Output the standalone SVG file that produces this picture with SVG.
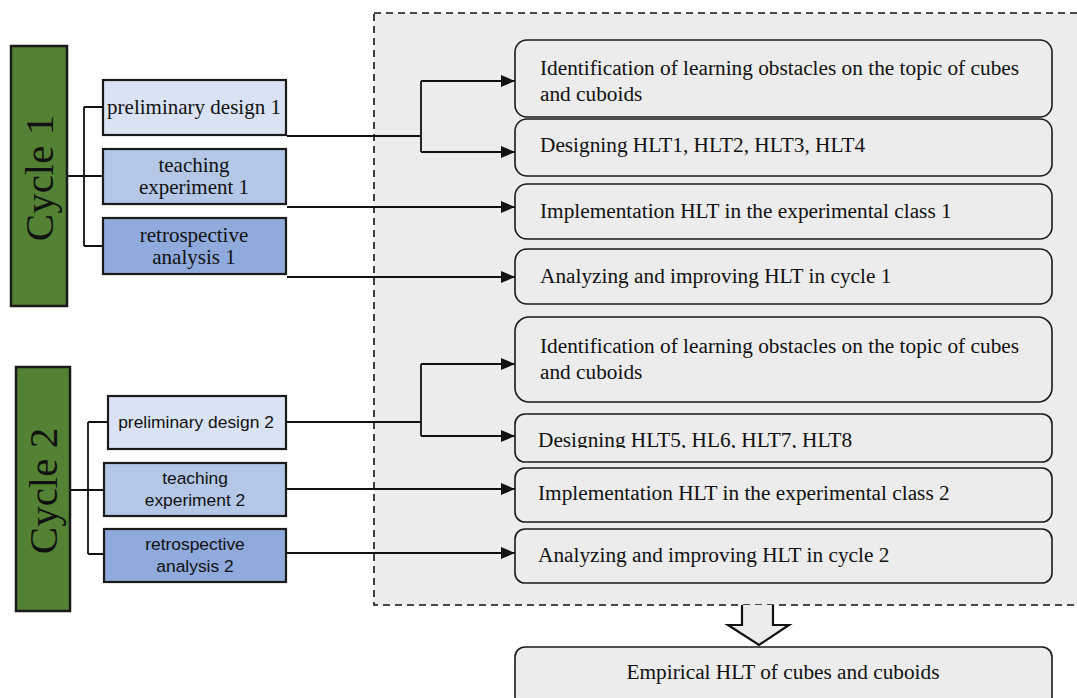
<svg xmlns="http://www.w3.org/2000/svg" width="1077" height="698" viewBox="0 0 1077 698">
<style>
.cyc{fill:#548235;stroke:#1a1a1a;stroke-width:2.5}
.lb{stroke:#1a1a1a;stroke-width:2.2}
.pd{fill:#dae3f3}.te{fill:#b4c7e7}.ra{fill:#8faadc}
.rb{fill:#ececec;stroke:#1a1a1a;stroke-width:1.6}
.ser{font-family:"Liberation Serif","Times New Roman",serif;fill:#111}
.san{font-family:"Liberation Sans",Arial,sans-serif;fill:#111}
.cn{fill:none;stroke:#111;stroke-width:1.8}
.rt{font-size:21.3px}
.lt{font-size:21px;text-anchor:middle}
.ls{font-size:17.4px;text-anchor:middle}
.ct{font-size:41px;text-anchor:middle}
</style>
<defs>
<marker id="ah" markerWidth="14" markerHeight="12" refX="14" refY="6" orient="auto" markerUnits="userSpaceOnUse">
<path d="M0,0 L14,6 L0,12 Z" fill="#111"/>
</marker>
<clipPath id="clipF"><rect x="515" y="414" width="537" height="34"/></clipPath>
</defs>
<rect width="1077" height="698" fill="#fff"/>
<g id="container">
<rect x="374" y="13" width="720" height="592" fill="#ececec" stroke="#111" stroke-width="1.6" stroke-dasharray="7,5"/>
</g>
<g id="connectors">
<path class="cn" d="M67,176 H103 M84,107 V246 M84,107 H103 M84,246 H103"/>
<path class="cn" d="M70,490 H104 M88,422 V554 M88,422 H108 M88,554 H104"/>
<path class="cn" d="M287,136 H421 M421,81 V152"/>
<path class="cn" d="M421,81 H515" marker-end="url(#ah)"/>
<path class="cn" d="M421,152 H515" marker-end="url(#ah)"/>
<path class="cn" d="M287,207 H515" marker-end="url(#ah)"/>
<path class="cn" d="M287,277 H515" marker-end="url(#ah)"/>
<path class="cn" d="M287,422 H421 M421,364 V436"/>
<path class="cn" d="M421,364 H515" marker-end="url(#ah)"/>
<path class="cn" d="M421,436 H515" marker-end="url(#ah)"/>
<path class="cn" d="M287,489 H515" marker-end="url(#ah)"/>
<path class="cn" d="M287,553 H515" marker-end="url(#ah)"/>
<path d="M742,605 V625 H728 L759,645 L789,625 H773 V605" fill="#ececec" stroke="#111" stroke-width="2.2"/>
</g>
<g id="cycle1">
<rect class="cyc" x="11" y="46" width="56" height="260"/>
<text class="ser ct" transform="translate(53,178) rotate(-90)">Cycle 1</text>
</g>
<g id="pd1"><rect class="lb pd" x="103" y="80" width="183" height="55"/><text class="ser lt" x="194" y="114">preliminary design 1</text></g>
<g id="te1"><rect class="lb te" x="103" y="149" width="183" height="55"/><text class="ser lt" x="194" y="172">teaching</text><text class="ser lt" x="194" y="194">experiment 1</text></g>
<g id="ra1"><rect class="lb ra" x="103" y="218" width="183" height="56"/><text class="ser lt" x="194" y="242">retrospective</text><text class="ser lt" x="194" y="264">analysis 1</text></g>
<g id="cycle2">
<rect class="cyc" x="16" y="367" width="54" height="244"/>
<text class="ser ct" transform="translate(57,491) rotate(-90)">Cycle 2</text>
</g>
<g id="pd2"><rect class="lb pd" x="108" y="396" width="178" height="53"/><text class="san ls" x="196" y="428">preliminary design 2</text></g>
<g id="te2"><rect class="lb te" x="104" y="463" width="182" height="53"/><text class="san ls" x="195" y="484">teaching</text><text class="san ls" x="195" y="506">experiment 2</text></g>
<g id="ra2"><rect class="lb ra" x="104" y="529" width="182" height="53"/><text class="san ls" x="195" y="550">retrospective</text><text class="san ls" x="195" y="572">analysis 2</text></g>
<g id="boxA"><rect class="rb" x="515" y="40" width="537" height="77" rx="12"/><text class="ser rt" x="540" y="75">Identification of learning obstacles on the topic of cubes</text><text class="ser rt" x="540" y="101">and cuboids</text></g>
<g id="boxB"><rect class="rb" x="515" y="119" width="537" height="57" rx="12"/><text class="ser rt" x="540" y="152">Designing HLT1, HLT2, HLT3, HLT4</text></g>
<g id="boxC"><rect class="rb" x="515" y="184" width="537" height="55" rx="12"/><text class="ser rt" x="540" y="218">Implementation HLT in the experimental class 1</text></g>
<g id="boxD"><rect class="rb" x="515" y="249" width="537" height="55" rx="12"/><text class="ser rt" x="540" y="283">Analyzing and improving HLT in cycle 1</text></g>
<g id="boxE"><rect class="rb" x="515" y="317" width="537" height="85" rx="14"/><text class="ser rt" x="540" y="353">Identification of learning obstacles on the topic of cubes</text><text class="ser rt" x="540" y="379">and cuboids</text></g>
<g id="boxF"><rect class="rb" x="515" y="414" width="537" height="48" rx="10"/><text class="ser rt" x="538" y="447" clip-path="url(#clipF)">Designing HLT5, HL6, HLT7, HLT8</text></g>
<g id="boxG"><rect class="rb" x="515" y="468" width="537" height="54" rx="10"/><text class="ser rt" x="538" y="500">Implementation HLT in the experimental class 2</text></g>
<g id="boxH"><rect class="rb" x="515" y="529" width="537" height="54" rx="10"/><text class="ser rt" x="538" y="562">Analyzing and improving HLT in cycle 2</text></g>
<g id="final"><rect class="rb" x="515" y="647" width="537" height="60" rx="10"/><text class="ser rt" x="783" y="679" text-anchor="middle">Empirical HLT of cubes and cuboids</text></g>
</svg>
